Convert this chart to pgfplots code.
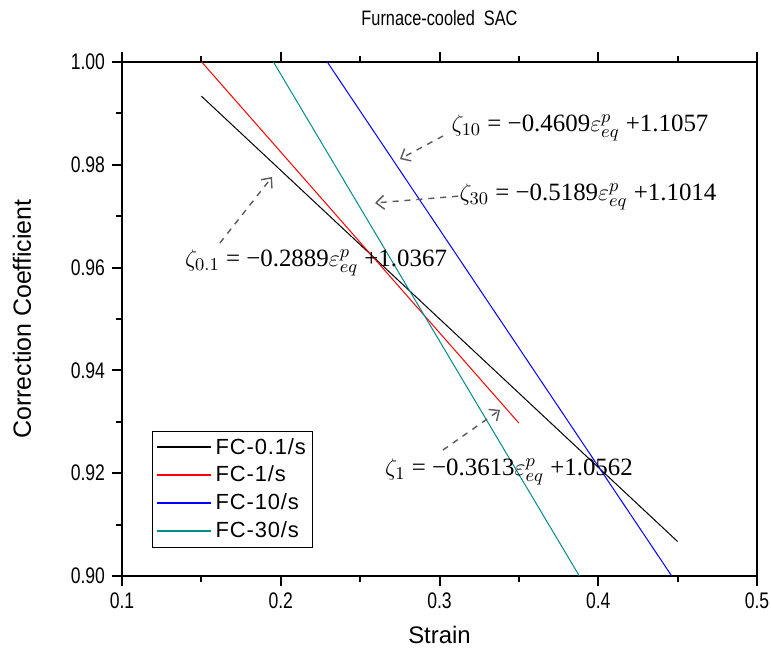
\documentclass[border=0pt]{standalone}
\usepackage{fontspec}
\setmainfont{Liberation Sans}
\newfontfamily\tnr{Liberation Serif}
\newfontfamily\narrow[FakeStretch=0.78]{Liberation Sans}
\newfontfamily\legfont[LetterSpace=4]{Liberation Sans}
\usepackage{pgfplots}
\pgfplotsset{compat=1.18}
\usetikzlibrary{arrows.meta}
\definecolor{fcteal}{RGB}{0,140,140}
\begin{document}
\begin{tikzpicture}
\begin{axis}[
  at={(0,0)}, anchor=south west,
  scale only axis, width=317.5bp, height=257bp,
  xmin=0.1, xmax=0.5, ymin=0.90, ymax=1.00,
  xtick={0.1,0.2,0.3,0.4,0.5},
  ytick={0.90,0.92,0.94,0.96,0.98,1.00},
  minor x tick num=1, minor y tick num=1,
  xtick pos=both, ytick pos=left,
  tick align=outside,
  major tick length=5bp, minor tick length=3bp,
  axis line style={line width=1bp},
  every tick/.style={line width=1bp, black},
  /pgf/number format/assume math mode=true,
  xticklabel style={/pgf/number format/.cd,fixed,fixed zerofill,precision=1},
  yticklabel style={/pgf/number format/.cd,fixed,fixed zerofill,precision=2},
  tick label style={font=\narrow\fontsize{11.3}{12}\selectfont},
  legend style={at={(0.047,0.054)}, anchor=south west, line width=0.6bp,
    font=\legfont\fontsize{11}{13}\selectfont, row sep=0.5bp, inner sep=1.5bp},
  legend cell align=left,
  legend image code/.code={\draw[#1, line width=1.1bp] (0bp,0.3bp) -- (27bp,0.3bp);},
  clip=false,
]
\addplot[color=black, line width=0.5bp] coordinates {(0.15,0.99336) (0.45,0.90670)};
\addlegendentry{FC-0.1/s}
\addplot[color=red, line width=0.5bp] coordinates {(0.1502,1.0) (0.35,0.92975)};
\addlegendentry{FC-1/s}
\addplot[color=blue, line width=0.5bp] coordinates {(0.2293,1.0) (0.4463,0.9)};
\addlegendentry{FC-10/s}
\addplot[color=fcteal, line width=0.5bp] coordinates {(0.1954,1.0) (0.3881,0.9)};
\addlegendentry{FC-30/s}

\draw[gray!70!black, dashed, line width=0.7bp, -{Straight Barb[length=4bp,width=7bp]}] (axis cs:0.3022,0.9856) -- (axis cs:0.2751,0.98113);
\draw[gray!70!black, dashed, line width=0.7bp, -{Straight Barb[length=4bp,width=7bp]}] (axis cs:0.3117,0.9739) -- (axis cs:0.2594,0.97257);
\draw[gray!70!black, dashed, line width=0.7bp, -{Straight Barb[length=4bp,width=7bp]}] (axis cs:0.1617,0.9648) -- (axis cs:0.1945,0.97763);
\draw[gray!70!black, dashed, line width=0.7bp, -{Straight Barb[length=4bp,width=7bp]}] (axis cs:0.3022,0.92451) -- (axis cs:0.3381,0.9323);

\node[font=\tnr\fontsize{12.5}{15}\selectfont] at (axis cs:0.3885,0.98716) {$\zeta_{10}$ = −0.4609$\varepsilon^{p}_{eq}$ +1.1057};
\node[font=\tnr\fontsize{12.5}{15}\selectfont] at (axis cs:0.3935,0.97374) {$\zeta_{30}$ = −0.5189$\varepsilon^{p}_{eq}$ +1.1014};
\node[font=\tnr\fontsize{12.5}{15}\selectfont] at (axis cs:0.2222,0.9609) {$\zeta_{0.1}$ = −0.2889$\varepsilon^{p}_{eq}$ +1.0367};
\node[font=\tnr\fontsize{12.5}{15}\selectfont] at (axis cs:0.3438,0.92023) {$\zeta_{1}$ = −0.3613$\varepsilon^{p}_{eq}$ +1.0562};
\end{axis}
\node[font=\narrow\fontsize{10.5}{12}\selectfont] at (158.75bp,279bp) {Furnace-cooled\ \ SAC};
\node[font=\fontsize{12}{14}\selectfont] at (158.75bp,-29.5bp) {Strain};
\node[font=\fontsize{12.5}{14}\selectfont, rotate=90] at (-50bp,128.5bp) {Correction Coefficient};
\pgfresetboundingbox
\path (-61bp,-40bp) rectangle (324.5bp,288bp);
\end{tikzpicture}
\end{document}
